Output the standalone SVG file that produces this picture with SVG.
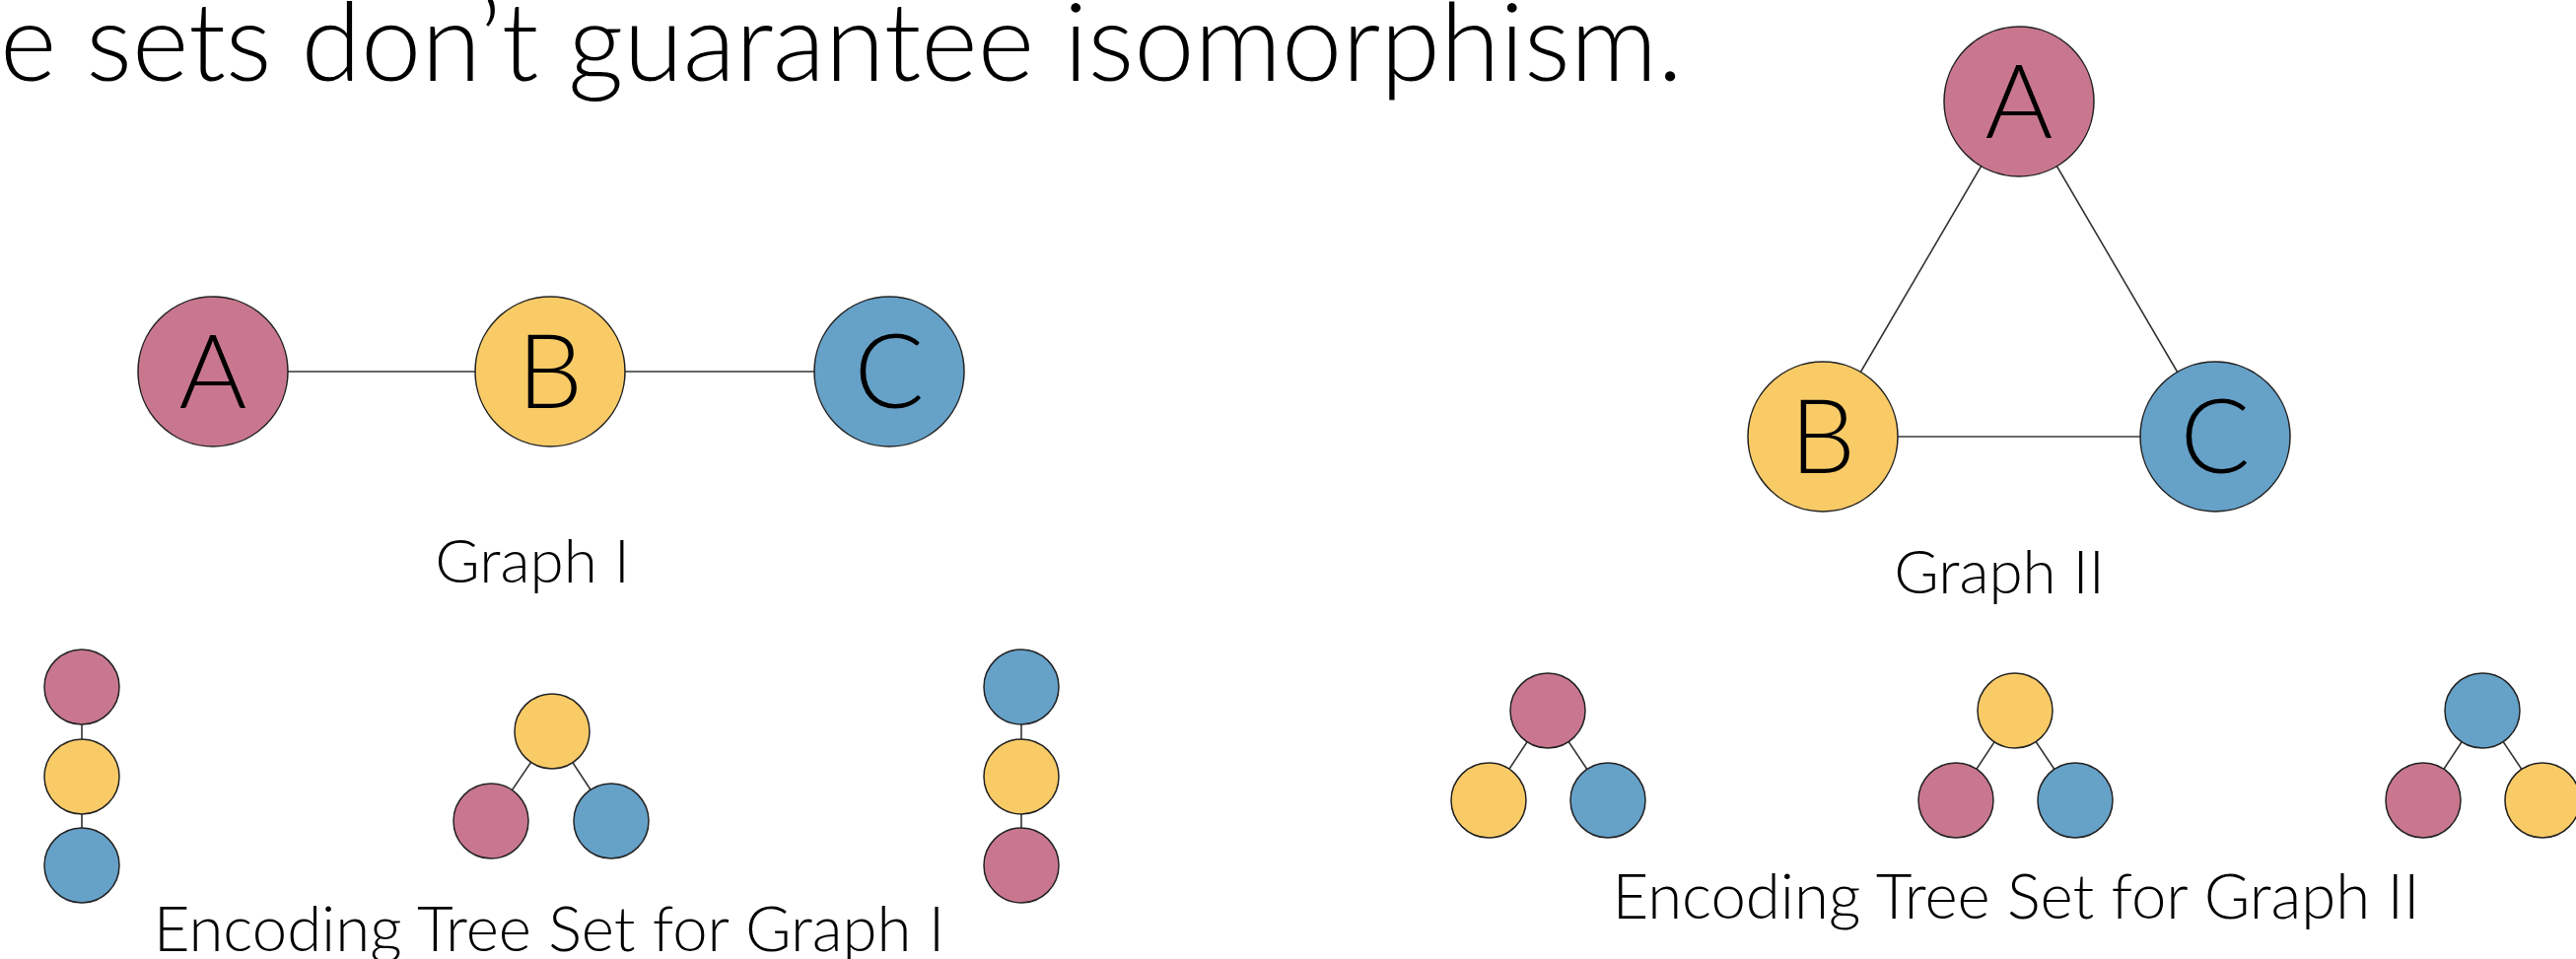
<svg xmlns="http://www.w3.org/2000/svg" width="2613" height="973" viewBox="0 0 2613 973">
  <style>
    .txt { font-family: "Lato", "Liberation Sans", sans-serif; font-weight: 300; fill: #000; }
    .title { font-size: 110px; }
    .letter { font-size: 105px; text-anchor: middle; }
    .label { font-size: 62px; text-anchor: middle; }
    .label-wide { font-size: 63.5px; text-anchor: middle; }
    .edge { stroke: #333; stroke-width: 1.6; fill: none; }
    .edge-soft { stroke: #6a6a6a; stroke-width: 2.2; fill: none; }
    .node { stroke: #222; stroke-width: 1.5; }
    .pink { fill: #C9778F; }
    .yellow { fill: #F9CB67; }
    .blue { fill: #66A1C8; }
  </style>

  <!-- heading -->
  <text class="txt title" x="0" y="82">e sets don’t guarantee isomorphism.</text>

  <!-- connectors -->
  <g id="connectors">
    <!-- Graph I -->
    <line class="edge" x1="216" y1="377" x2="558" y2="377"/>
    <line class="edge" x1="558" y1="377" x2="902" y2="377"/>
    <!-- Graph II -->
    <line class="edge" x1="2048" y1="103" x2="1849" y2="443"/>
    <line class="edge" x1="2048" y1="103" x2="2247" y2="443"/>
    <line class="edge-soft" x1="1849" y1="443" x2="2247" y2="443"/>
    <!-- trees for Graph I -->
    <line class="edge" x1="83" y1="697" x2="83" y2="878"/>
    <line class="edge" x1="560" y1="742" x2="498" y2="833"/>
    <line class="edge" x1="560" y1="742" x2="620" y2="833"/>
    <line class="edge" x1="1036" y1="697" x2="1036" y2="878"/>
    <!-- trees for Graph II -->
    <line class="edge" x1="1570" y1="721" x2="1510" y2="812"/>
    <line class="edge" x1="1570" y1="721" x2="1631" y2="812"/>
    <line class="edge" x1="2044" y1="721" x2="1984" y2="812"/>
    <line class="edge" x1="2044" y1="721" x2="2105" y2="812"/>
    <line class="edge" x1="2518" y1="721" x2="2458" y2="812"/>
    <line class="edge" x1="2518" y1="721" x2="2579" y2="812"/>
  </g>

  <!-- Graph I -->
  <g id="g1-A">
    <circle class="node pink" cx="216" cy="377" r="76"/>
    <text class="txt letter" x="216" y="414">A</text>
  </g>
  <g id="g1-B">
    <circle class="node yellow" cx="558" cy="377" r="76"/>
    <text class="txt letter" x="558" y="414">B</text>
  </g>
  <g id="g1-C">
    <circle class="node blue" cx="902" cy="377" r="76"/>
    <text class="txt letter" x="902" y="414">C</text>
  </g>
  <text id="g1-label" class="txt label" x="540" y="591">Graph I</text>

  <!-- Graph II -->
  <g id="g2-A">
    <circle class="node pink" cx="2048" cy="103" r="76"/>
    <text class="txt letter" x="2048" y="140">A</text>
  </g>
  <g id="g2-B">
    <circle class="node yellow" cx="1849" cy="443" r="76"/>
    <text class="txt letter" x="1849" y="480">B</text>
  </g>
  <g id="g2-C">
    <circle class="node blue" cx="2247" cy="443" r="76"/>
    <text class="txt letter" x="2247" y="480">C</text>
  </g>
  <text id="g2-label" class="txt label" x="2028" y="602">Graph II</text>

  <!-- encoding trees, Graph I -->
  <g id="t1-chain-A">
    <circle class="node pink" cx="83" cy="697" r="38"/>
    <circle class="node yellow" cx="83" cy="788" r="38"/>
    <circle class="node blue" cx="83" cy="878" r="38"/>
  </g>
  <g id="t1-root-B">
    <circle class="node yellow" cx="560" cy="742" r="38"/>
    <circle class="node pink" cx="498" cy="833" r="38"/>
    <circle class="node blue" cx="620" cy="833" r="38"/>
  </g>
  <g id="t1-chain-C">
    <circle class="node blue" cx="1036" cy="697" r="38"/>
    <circle class="node yellow" cx="1036" cy="788" r="38"/>
    <circle class="node pink" cx="1036" cy="878" r="38"/>
  </g>
  <text id="t1-label" class="txt label-wide" x="557" y="965">Encoding Tree Set for Graph I</text>

  <!-- encoding trees, Graph II -->
  <g id="t2-root-A">
    <circle class="node pink" cx="1570" cy="721" r="38"/>
    <circle class="node yellow" cx="1510" cy="812" r="38"/>
    <circle class="node blue" cx="1631" cy="812" r="38"/>
  </g>
  <g id="t2-root-B">
    <circle class="node yellow" cx="2044" cy="721" r="38"/>
    <circle class="node pink" cx="1984" cy="812" r="38"/>
    <circle class="node blue" cx="2105" cy="812" r="38"/>
  </g>
  <g id="t2-root-C">
    <circle class="node blue" cx="2518" cy="721" r="38"/>
    <circle class="node pink" cx="2458" cy="812" r="38"/>
    <circle class="node yellow" cx="2579" cy="812" r="38"/>
  </g>
  <text id="t2-label" class="txt label-wide" x="2045" y="932">Encoding Tree Set for Graph II</text>
</svg>
